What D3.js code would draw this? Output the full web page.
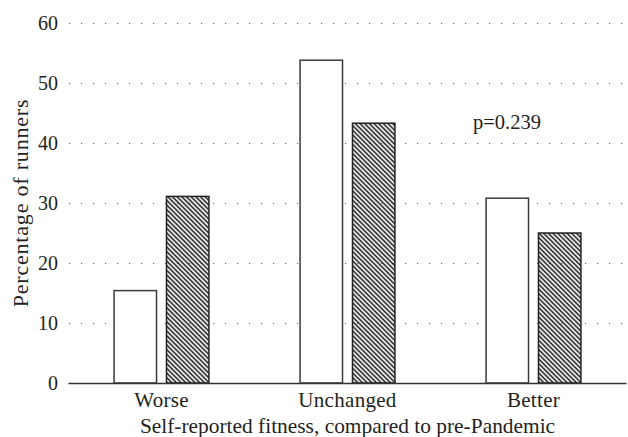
<!DOCTYPE html>
<html>
<head>
<meta charset="utf-8">
<script src="https://cdn.jsdelivr.net/npm/d3@7"></script>
<style>
  html, body { margin: 0; padding: 0; background: #fff; }
  svg { display: block; }
</style>
</head>
<body>
<div id="chart"></div>
<script>
const categories = ['Worse', 'Unchanged', 'Better']
const seriesNames = ['Group A', 'Group B']
const groupA = [15.4, 53.8, 30.8]
const groupB = [31.1, 43.3, 25.0]
const yTicks = [0, 10, 20, 30, 40, 50, 60]

const width = 628
const height = 437
const margin = { top: 23, right: 1.5, bottom: 54, left: 68.5 }
const serif = 'Liberation Serif, DejaVu Serif, Times New Roman, serif'
const ink = '#231f20'

const rows = categories.map((c, i) => ({ category: c, values: [groupA[i], groupB[i]] }))

const svg = d3.select('#chart').append('svg')
  .attr('width', width)
  .attr('height', height)
  .attr('font-family', serif)

// hatch for second series
svg.append('defs').append('pattern')
  .attr('id', 'hatch')
  .attr('patternUnits', 'userSpaceOnUse')
  .attr('width', 3.3)
  .attr('height', 10)
  .attr('patternTransform', 'rotate(-45)')
  .append('line')
  .attr('x1', 1.2).attr('y1', 0)
  .attr('x2', 1.2).attr('y2', 10)
  .attr('stroke', '#111')
  .attr('stroke-width', 1.5)

const x0 = d3.scaleBand()
  .domain(categories)
  .range([margin.left, width - margin.right])
  .paddingInner(0.49)
  .paddingOuter(0.245)

const x1 = d3.scaleBand()
  .domain(seriesNames)
  .range([0, x0.bandwidth()])
  .paddingInner(0.19)

const y = d3.scaleLinear()
  .domain([0, 60])
  .range([height - margin.bottom, margin.top])

// dotted grid
svg.append('g')
  .selectAll('line')
  .data(yTicks.filter(t => t > 0))
  .join('line')
  .attr('x1', margin.left + 0.5)
  .attr('x2', width - margin.right)
  .attr('y1', d => Math.round(y(d)) + 0.5)
  .attr('y2', d => Math.round(y(d)) + 0.5)
  .attr('stroke', '#666')
  .attr('stroke-width', 1.1)
  .attr('stroke-dasharray', '1.1,10.9')

// y tick labels
const yAxis = svg.append('g')
  .attr('transform', `translate(${margin.left},0)`)
  .call(d3.axisLeft(y).tickValues(yTicks).tickSize(0).tickPadding(10.5))
yAxis.select('.domain').remove()
yAxis.attr('font-family', null).attr('font-size', null)
yAxis.selectAll('text')
  .attr('font-family', serif)
  .attr('font-size', 20)
  .attr('fill', ink)

// bars
const groups = svg.append('g')
  .selectAll('g')
  .data(rows)
  .join('g')
  .attr('transform', d => `translate(${x0(d.category)},0)`)

groups.selectAll('rect')
  .data(d => d.values.map((v, i) => ({ key: seriesNames[i], value: v })))
  .join('rect')
  .attr('x', d => x1(d.key))
  .attr('y', d => y(d.value))
  .attr('width', x1.bandwidth())
  .attr('height', d => y(0) - y(d.value))
  .attr('fill', d => d.key === seriesNames[0] ? '#fff' : 'url(#hatch)')
  .attr('stroke', d => d.key === seriesNames[0] ? '#3a3a3a' : '#222')
  .attr('stroke-width', 1.5)

// baseline
svg.append('line')
  .attr('x1', margin.left)
  .attr('x2', width - margin.right)
  .attr('y1', y(0) + 0.5)
  .attr('y2', y(0) + 0.5)
  .attr('stroke', '#333')
  .attr('stroke-width', 1.4)

// x category labels
const xAxis = svg.append('g')
  .attr('transform', `translate(0,${y(0)})`)
  .call(d3.axisBottom(x0).tickSize(0).tickPadding(9))
xAxis.select('.domain').remove()
xAxis.attr('font-family', null).attr('font-size', null)
xAxis.selectAll('text')
  .attr('font-family', serif)
  .attr('font-size', 21)
  .attr('letter-spacing', 0.3)
  .attr('fill', ink)

// axis titles
svg.append('text')
  .attr('x', (margin.left + width - margin.right) / 2)
  .attr('y', 433)
  .attr('text-anchor', 'middle')
  .attr('font-size', 21.4)
  .attr('fill', ink)
  .text('Self-reported fitness, compared to pre-Pandemic')

svg.append('text')
  .attr('transform', `translate(27.5,${(y(0) + y(60)) / 2}) rotate(-90)`)
  .attr('text-anchor', 'middle')
  .attr('font-size', 22)
  .attr('letter-spacing', 0.8)
  .attr('fill', ink)
  .text('Percentage of runners')

svg.append('text')
  .attr('x', 473)
  .attr('y', 129)
  .attr('font-size', 20.5)
  .attr('fill', ink)
  .text('p=0.239')
</script>
</body>
</html>
